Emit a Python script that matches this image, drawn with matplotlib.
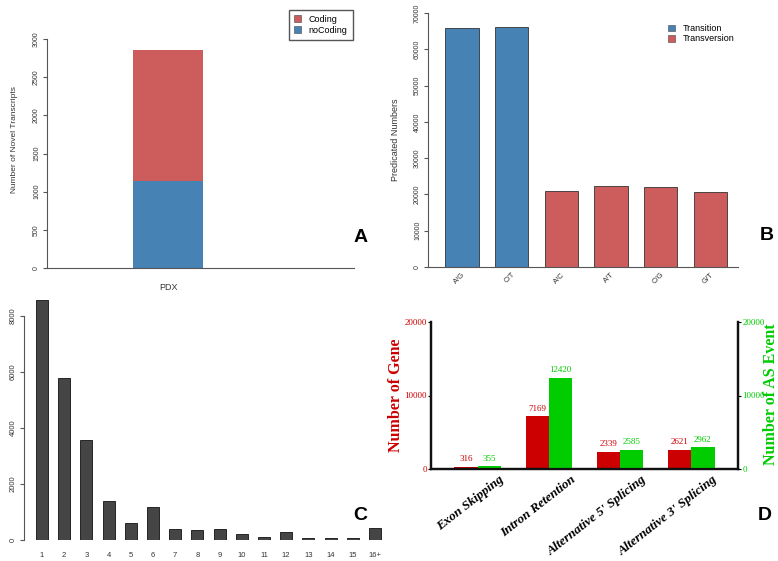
import matplotlib
matplotlib.use('Agg')
import matplotlib.pyplot as plt
from matplotlib.patches import Patch
import numpy as np

W, H = 778, 561

# panel A: novel transcripts
a_category = ['PDX']
a_nocoding = [1140]
a_coding = [1710]

# panel B: SNP types
b_labels = ['A/G', 'C/T', 'A/C', 'A/T', 'C/G', 'G/T']
b_values = [65900, 66200, 21000, 22300, 22100, 20700]
b_types = ['Transition', 'Transition', 'Transversion', 'Transversion',
           'Transversion', 'Transversion']

# panel C: PDX counts
c_labels = ['1', '2', '3', '4', '5', '6', '7', '8', '9', '10', '11', '12',
            '13', '14', '15', '16+']
c_values = [8570, 5770, 3570, 1400, 600, 1180, 380, 360, 400, 210, 120, 270,
            80, 60, 80, 430]

# panel D: alternative splicing
d_events = ['Exon Skipping', 'Intron Retention', "Alternative 5' Splicing",
            "Alternative 3' Splicing"]
d_genes = [316, 7169, 2339, 2621]
d_as_events = [355, 12420, 2585, 2962]

red_ab = '#CD5C5C'
blue_ab = '#4682B4'
type_colors = {'Transition': blue_ab, 'Transversion': red_ab}
red_d = '#CC0000'
green_d = '#00CC00'
grey = '#555555'
sans = 'Liberation Sans'
serif = 'Liberation Serif'

plt.rcParams['font.family'] = sans
plt.rcParams['axes.facecolor'] = 'none'

fig = plt.figure(figsize=(W / 100, H / 100), dpi=100)


def add_ax(l, t, r, b):
    return fig.add_axes([l / W, 1 - b / H, (r - l) / W, (b - t) / H])


def r_axes(ax, yticks, ymax, size=5):
    for s in ['top', 'right']:
        ax.spines[s].set_visible(False)
    ax.spines['left'].set_bounds(0, ymax)
    ax.spines['left'].set_color(grey)
    ax.spines['bottom'].set_color(grey)
    ax.spines['left'].set_linewidth(0.8)
    ax.spines['bottom'].set_linewidth(0.8)
    ax.set_yticks(yticks)
    ax.set_yticklabels([str(v) for v in yticks], rotation=90, va='center')
    ax.tick_params(axis='y', length=3, color=grey, labelsize=size,
                   labelcolor='#333333', pad=2)
    ax.tick_params(axis='x', length=0, labelcolor='#333333')


# ---- C (drawn first so panel A's label stays on top) ----
axC = add_ax(24, 288, 386, 540)
xc = np.arange(len(c_labels))
axC.bar(xc, c_values, width=0.54, color='#454545', edgecolor='#111111',
        linewidth=0.6)
axC.set_xlim(-0.81, 15.5)
axC.set_ylim(0, 9000)
r_axes(axC, list(range(0, 8001, 2000)), 8000, size=5.5)
axC.spines['bottom'].set_visible(False)
axC.set_xticks(xc)
axC.set_xticklabels(c_labels, fontsize=5.5)
axC.tick_params(axis='x', pad=8.5)

# ---- A ----
axA = add_ax(47, 39, 354, 268)
xa = np.arange(len(a_category))
axA.bar(xa, a_nocoding, width=0.6, color=blue_ab, label='noCoding')
axA.bar(xa, a_coding, width=0.6, bottom=a_nocoding, color=red_ab, label='Coding')
axA.set_xlim(-1.04, 1.59)
axA.set_ylim(0, 3000)
r_axes(axA, list(range(0, 3001, 500)), 3000)
axA.set_xticks(xa)
axA.set_xticklabels(a_category, fontsize=6.5)
axA.tick_params(axis='x', pad=11)
fig.text(15 / W, 1 - 140 / H, 'Number of Novel Transcripts', rotation=90,
         fontsize=6, color='#333333', ha='center', va='center')
fig.legend(handles=[Patch(facecolor=red_ab, edgecolor='#444444', lw=0.4, label='Coding'),
                    Patch(facecolor=blue_ab, edgecolor='#444444', lw=0.4, label='noCoding')],
           loc='upper left', bbox_to_anchor=(284 / W, 1 - 5 / H), fontsize=6.5,
           frameon=True, fancybox=False, edgecolor=grey, framealpha=1,
           handlelength=0.8, handleheight=0.8, handletextpad=0.8,
           borderpad=0.6, labelspacing=0.2)

# ---- B ----
axB = add_ax(428, 13, 738, 267)
xb = np.arange(len(b_labels))
axB.bar(xb, b_values, width=0.67, color=[type_colors[t] for t in b_types],
        edgecolor='#333333', linewidth=0.6)
axB.set_xlim(-0.684, 5.553)
axB.set_ylim(0, 70000)
r_axes(axB, list(range(0, 70001, 10000)), 70000)
axB.set_xticks(xb)
axB.set_xticklabels(b_labels, rotation=45, ha='right', va='top',
                    rotation_mode='anchor', fontsize=5.5)
axB.tick_params(axis='x', pad=3)
fig.text(395 / W, 1 - 140 / H, 'Predicated Numbers', rotation=90,
         fontsize=6.5, color='#333333', ha='center', va='center')
fig.legend(handles=[Patch(facecolor=type_colors[t], edgecolor='#444444', lw=0.4, label=t)
                    for t in ['Transition', 'Transversion']],
           loc='upper left', bbox_to_anchor=(660 / W, 1 - 16 / H), fontsize=6.5,
           frameon=False, handlelength=0.8, handleheight=0.8, handletextpad=0.8,
           labelspacing=0.15)

# ---- D ----
axD = add_ax(431, 322, 738, 469)
xd = np.arange(len(d_events))
bw = 0.33
axD.bar(xd - bw / 2, d_genes, width=bw, color=red_d)
axD2 = axD.twinx()
axD2.bar(xd + bw / 2, d_as_events, width=bw, color=green_d)
for ax in (axD, axD2):
    ax.set_xlim(-0.66, 3.66)
    ax.set_ylim(0, 20000)
    ax.spines['top'].set_visible(False)
    for s in ['left', 'right', 'bottom']:
        ax.spines[s].set_linewidth(1.6)
        ax.spines[s].set_color('#111111')
    ax.set_yticks([0, 10000, 20000])
axD.tick_params(axis='y', length=2, pad=1, labelsize=6.5, labelcolor=red_d)
axD2.tick_params(axis='y', length=2, pad=1, labelsize=6.5, labelcolor=green_d)
for lab in axD.get_yticklabels() + axD2.get_yticklabels():
    lab.set_family(serif)
for xi, v in zip(xd - bw / 2, d_genes):
    axD.text(xi, v + 500, str(v), ha='center', va='bottom', fontsize=6.5,
             color=red_d, family=serif)
for xi, v in zip(xd + bw / 2, d_as_events):
    axD2.text(xi, v + 500, str(v), ha='center', va='bottom', fontsize=6.5,
              color=green_d, family=serif)
axD.set_xticks(xd + 0.3)
axD.set_xticklabels(d_events, rotation=38, ha='right', va='top',
                    rotation_mode='anchor', fontsize=9.5, family=serif,
                    weight='bold', style='italic')
axD.tick_params(axis='x', length=0, pad=3)
fig.text(396 / W, 1 - 395 / H, 'Number of Gene', rotation=90, fontsize=11.5,
         weight='bold', color=red_d, family=serif, ha='center', va='center')
fig.text(771 / W, 1 - 394 / H, 'Number of AS Event', rotation=90, fontsize=11.5,
         weight='bold', color=green_d, family=serif, ha='center', va='center')

# panel letters
for letter, (px, py) in zip('ABCD', [(361, 237), (767, 235), (360, 515), (765, 515)]):
    fig.text(px / W, 1 - py / H, letter, fontsize=14, weight='bold',
             ha='center', va='center')

fig.savefig('out.png', dpi=100)
